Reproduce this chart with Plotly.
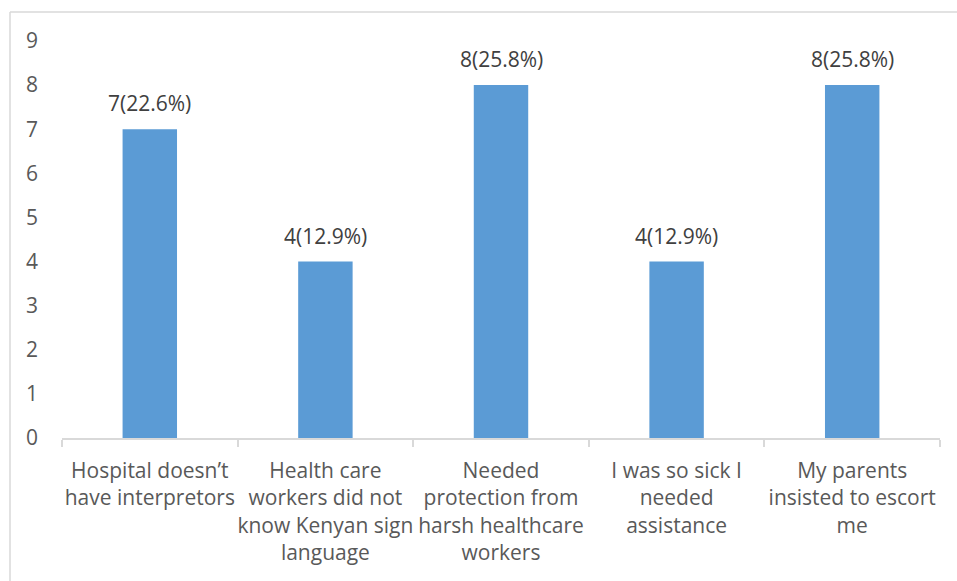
import plotly.graph_objects as go

# Reasons for being escorted to hospital (counts of respondents)
categories = [
    "Hospital doesn\u2019t<br>have interpretors",
    "Health care<br>workers did not<br>know Kenyan sign<br>language",
    "Needed<br>protection from<br>harsh healthcare<br>workers",
    "I was so sick I<br>needed<br>assistance",
    "My parents<br>insisted to escort<br>me",
]
counts = [7, 4, 8, 4, 8]
y_ticks = list(range(0, 10))

total = sum(counts)
labels = [f"{c}({c / total * 100:.1f}%)" for c in counts]

W, H = 957, 581
ML, MR, MT, MB = 62, 17, 41, 143
PW, PH = W - ML - MR, H - MT - MB

FONT = "Open Sans"
FS = 21
BAR = "#5B9BD5"

fig = go.Figure(
    go.Bar(
        x=categories,
        y=counts,
        marker=dict(color=BAR, line=dict(width=0)),
        width=0.31,
        hoverinfo="skip",
    )
)

# value labels above each bar
for cat, c, lab in zip(categories, counts, labels):
    fig.add_annotation(
        x=cat, y=c, text=lab, showarrow=False,
        yanchor="bottom", yshift=10,
        font=dict(family=FONT, size=FS, color="#404040"),
    )

# light frame around the chart area
x0 = (10 - ML) / PW
y1 = 1 + (MT - 12) / PH
fig.add_shape(type="line", xref="paper", yref="paper",
              x0=x0, x1=1.2, y0=y1, y1=y1,
              line=dict(color="#D9D9D9", width=1.5))
fig.add_shape(type="line", xref="paper", yref="paper",
              x0=x0, x1=x0, y0=y1, y1=-0.5,
              line=dict(color="#D9D9D9", width=1.5))

fig.update_layout(
    width=W, height=H,
    margin=dict(l=ML, r=MR, t=MT, b=MB, pad=0, autoexpand=False),
    paper_bgcolor="white", plot_bgcolor="white",
    showlegend=False,
    font=dict(family=FONT, size=FS, color="#595959"),
    bargap=0.69,
    xaxis=dict(
        type="category",
        showline=True, linecolor="#D9D9D9", linewidth=1.5,
        ticks="outside", tickson="boundaries", ticklen=7,
        tickcolor="#D9D9D9", tickwidth=1.5,
        showgrid=False, zeroline=False,
        tickangle=0, automargin=False,
        ticklabelstandoff=13,
        tickfont=dict(family=FONT, size=FS, color="#595959"),
        fixedrange=True,
    ),
    yaxis=dict(
        range=[0, 9], tickvals=y_ticks,
        showline=False, showgrid=False, zeroline=False,
        ticks="", ticklabelstandoff=23, automargin=False,
        tickfont=dict(family=FONT, size=FS, color="#595959"),
        fixedrange=True,
    ),
)

fig.write_html("out.html")
